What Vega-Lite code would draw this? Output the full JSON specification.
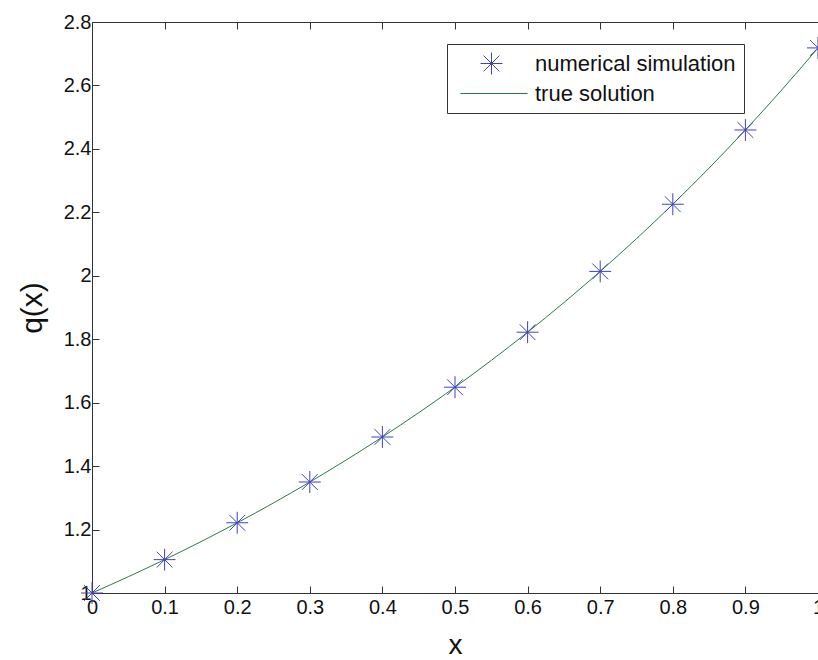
{
  "$schema": "https://vega.github.io/schema/vega-lite/v6.json",
  "width": 726,
  "height": 571,
  "autosize": {"type": "none"},
  "padding": {"left": 92, "top": 22, "right": 0, "bottom": 67},
  "background": "white",
  "config": {
    "view": {"stroke": "#333", "strokeWidth": 1},
    "font": "Liberation Sans",
    "axis": {
      "grid": false,
      "domainColor": "#333",
      "tickColor": "#333",
      "tickSize": -7,
      "labelFont": "Liberation Sans",
      "labelFontSize": 20,
      "labelColor": "#111",
      "titleFont": "Liberation Sans",
      "titleFontWeight": "normal",
      "titleColor": "#111",
      "labelFlush": false,
      "labelOverlap": false
    }
  },
  "datasets": {
    "sim": [
      {"x": 0.0, "q": 1.0, "series": "numerical simulation"},
      {"x": 0.1, "q": 1.1052, "series": "numerical simulation"},
      {"x": 0.2, "q": 1.2214, "series": "numerical simulation"},
      {"x": 0.3, "q": 1.3499, "series": "numerical simulation"},
      {"x": 0.4, "q": 1.4918, "series": "numerical simulation"},
      {"x": 0.5, "q": 1.6487, "series": "numerical simulation"},
      {"x": 0.6, "q": 1.8221, "series": "numerical simulation"},
      {"x": 0.7, "q": 2.0138, "series": "numerical simulation"},
      {"x": 0.8, "q": 2.2255, "series": "numerical simulation"},
      {"x": 0.9, "q": 2.4596, "series": "numerical simulation"},
      {"x": 1.0, "q": 2.7183, "series": "numerical simulation"}
    ],
    "truth": [
      {"x": 0.0, "q": 1.0, "series": "true solution"},
      {"x": 0.05, "q": 1.0513, "series": "true solution"},
      {"x": 0.1, "q": 1.1052, "series": "true solution"},
      {"x": 0.15, "q": 1.1618, "series": "true solution"},
      {"x": 0.2, "q": 1.2214, "series": "true solution"},
      {"x": 0.25, "q": 1.284, "series": "true solution"},
      {"x": 0.3, "q": 1.3499, "series": "true solution"},
      {"x": 0.35, "q": 1.4191, "series": "true solution"},
      {"x": 0.4, "q": 1.4918, "series": "true solution"},
      {"x": 0.45, "q": 1.5683, "series": "true solution"},
      {"x": 0.5, "q": 1.6487, "series": "true solution"},
      {"x": 0.55, "q": 1.7333, "series": "true solution"},
      {"x": 0.6, "q": 1.8221, "series": "true solution"},
      {"x": 0.65, "q": 1.9155, "series": "true solution"},
      {"x": 0.7, "q": 2.0138, "series": "true solution"},
      {"x": 0.75, "q": 2.117, "series": "true solution"},
      {"x": 0.8, "q": 2.2255, "series": "true solution"},
      {"x": 0.85, "q": 2.3396, "series": "true solution"},
      {"x": 0.9, "q": 2.4596, "series": "true solution"},
      {"x": 0.95, "q": 2.5857, "series": "true solution"},
      {"x": 1.0, "q": 2.7183, "series": "true solution"}
    ]
  },
  "layer": [
    {
      "data": {"name": "truth"},
      "mark": {"type": "line", "strokeWidth": 1, "interpolate": "monotone", "clip": false},
      "encoding": {
        "x": {"field": "x", "type": "quantitative", "scale": {"domain": [0, 1], "nice": false, "zero": false},
          "axis": {"orient": "top", "labels": false, "title": null, "values": [0, 0.1, 0.2, 0.3, 0.4, 0.5, 0.6, 0.7, 0.8, 0.9, 1], "domain": false}},
        "y": {"field": "q", "type": "quantitative", "scale": {"domain": [1, 2.8], "nice": false, "zero": false},
          "axis": {"orient": "left", "title": "q(x)", "titleFontSize": 30, "titlePadding": 16, "labelPadding": 8, "values": [1, 1.2, 1.4, 1.6, 1.8, 2, 2.2, 2.4, 2.6, 2.8], "format": "~g"}},
        "color": {"field": "series", "type": "nominal",
          "scale": {"domain": ["numerical simulation", "true solution"], "range": ["#4040c0", "#2a7a48"]},
          "legend": {
            "orient": "none", "legendX": 355, "legendY": 22, "title": null,
            "strokeColor": "#333", "fillColor": "white", "padding": 8,
            "labelFont": "Liberation Sans", "labelFontSize": 22, "labelColor": "#111", "labelLimit": 400,
            "symbolStrokeWidth": 1, "symbolSize": 480, "symbolOffset": 25, "rowPadding": 5, "labelOffset": 32
          }}
      }
    },
    {
      "data": {"name": "sim"},
      "mark": {"type": "point", "filled": false, "strokeWidth": 1, "opacity": 1, "size": 480, "clip": false},
      "encoding": {
        "x": {"field": "x", "type": "quantitative",
          "axis": {"orient": "bottom", "title": "x", "titleFontSize": 28, "titlePadding": 14, "labelPadding": 11, "values": [0, 0.1, 0.2, 0.3, 0.4, 0.5, 0.6, 0.7, 0.8, 0.9, 1], "format": "~g"}},
        "y": {"field": "q", "type": "quantitative", "axis": null},
        "color": {"field": "series", "type": "nominal"},
        "shape": {"field": "series", "type": "nominal",
          "scale": {"domain": ["numerical simulation", "true solution"], "range": ["M-1,0L1,0M0,-1L0,1M-0.72,-0.72L0.72,0.72M-0.72,0.72L0.72,-0.72", "M-2.83,0L3.29,0"]}}
      }
    }
  ],
  "resolve": {"axis": {"x": "independent", "y": "independent"}}
}
